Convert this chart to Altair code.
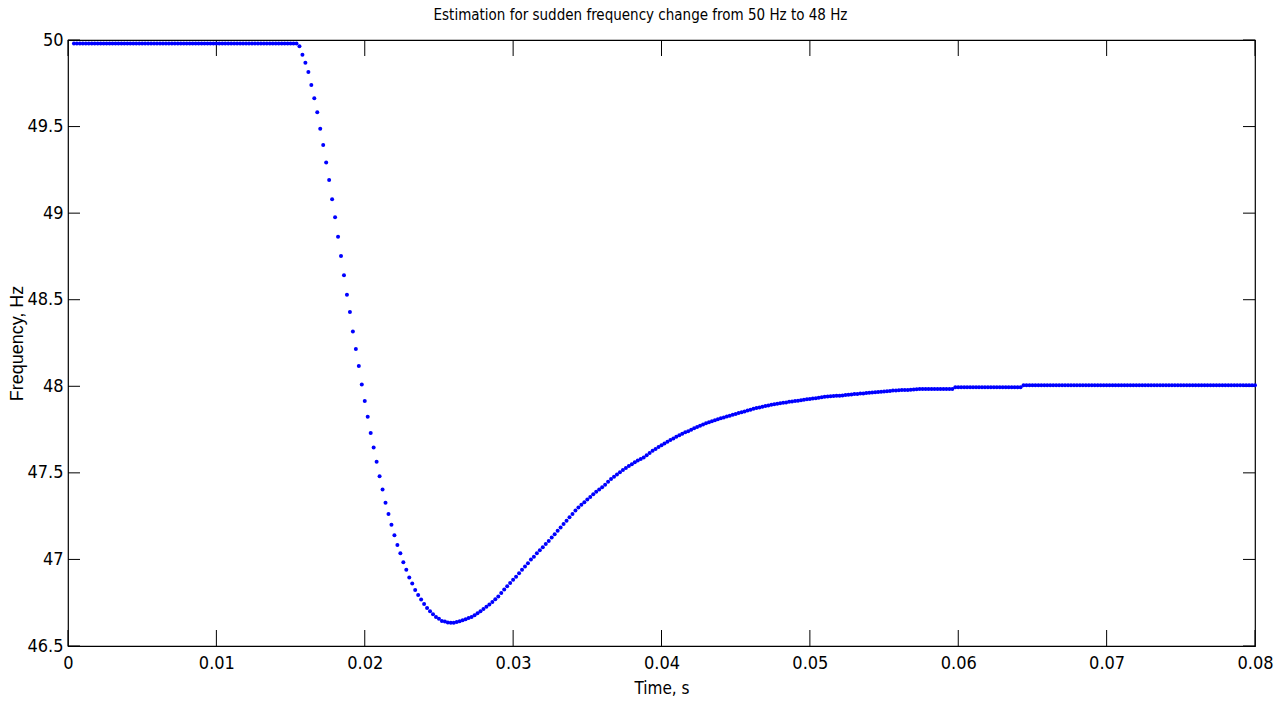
import altair as alt
import pandas as pd

# ---------------- data ----------------
t_start = 0.0004     # first sample time, s
dt = 0.0002          # sampling step, s

freq_flat = [
    49.98, 49.98, 49.98, 49.98, 49.98, 49.98, 49.98, 49.98, 49.98, 49.98,
    49.98, 49.98, 49.98, 49.98, 49.98, 49.98, 49.98, 49.98, 49.98, 49.98,
    49.98, 49.98, 49.98, 49.98, 49.98, 49.98, 49.98, 49.98, 49.98, 49.98,
    49.98, 49.98, 49.98, 49.98, 49.98, 49.98, 49.98, 49.98, 49.98, 49.98,
    49.98, 49.98, 49.98, 49.98, 49.98, 49.98, 49.98, 49.98, 49.98, 49.98,
    49.98, 49.98, 49.98, 49.98, 49.98, 49.98, 49.98, 49.98, 49.98, 49.98,
    49.98, 49.98, 49.98, 49.98, 49.98, 49.98, 49.98, 49.98, 49.98, 49.98,
    49.98, 49.98, 49.98, 49.98, 49.98, 49.98,
]
freq_drop = [
    49.964, 49.915, 49.869, 49.815, 49.740, 49.663, 49.582, 49.488, 49.393, 49.293,
    49.191, 49.080, 48.976, 48.864, 48.752, 48.641, 48.529, 48.429, 48.316, 48.215,
    48.117, 48.011, 47.915, 47.824, 47.730, 47.647, 47.564, 47.480, 47.404, 47.327,
    47.263, 47.200, 47.139, 47.083, 47.035, 46.983, 46.940, 46.896, 46.861, 46.823,
    46.794, 46.769, 46.742, 46.720, 46.701, 46.684, 46.667, 46.657, 46.645, 46.642,
]
freq_bottom = [
    46.636, 46.634, 46.634, 46.638, 46.643, 46.648, 46.654, 46.661, 46.668, 46.678,
    46.689, 46.701, 46.713, 46.726, 46.739, 46.754, 46.770, 46.786, 46.806, 46.826,
    46.845, 46.864,
]
freq_rise = [
    46.882, 46.900, 46.920, 46.940, 46.959, 46.978, 46.999, 47.016, 47.035, 47.053,
    47.071, 47.089, 47.107, 47.126, 47.145, 47.165, 47.185, 47.204, 47.224, 47.244,
    47.263, 47.283, 47.300, 47.316, 47.330, 47.346, 47.361, 47.376, 47.391, 47.404,
    47.417, 47.432, 47.448, 47.464, 47.477, 47.490, 47.503, 47.516, 47.528, 47.539,
    47.550, 47.561, 47.571, 47.580, 47.589, 47.601, 47.614, 47.627, 47.638, 47.649,
]
freq_recover = [
    47.660, 47.670, 47.680, 47.690, 47.699, 47.708, 47.717, 47.726, 47.734, 47.741,
    47.749, 47.757, 47.765, 47.772, 47.779, 47.786, 47.792, 47.798, 47.804, 47.810,
    47.815, 47.820, 47.825, 47.830, 47.835, 47.840, 47.845, 47.850, 47.855, 47.860,
    47.865, 47.870, 47.874, 47.878, 47.882, 47.886, 47.889, 47.893, 47.896, 47.899,
    47.902, 47.905, 47.907, 47.910, 47.912, 47.915, 47.917, 47.920, 47.922, 47.925,
]
freq_settle = [
    47.927, 47.929, 47.931, 47.934, 47.936, 47.939, 47.941, 47.943, 47.944, 47.945,
    47.946, 47.947, 47.949, 47.951, 47.953, 47.955, 47.956, 47.958, 47.959, 47.961,
    47.963, 47.964, 47.966, 47.967, 47.969, 47.970, 47.972, 47.973, 47.975, 47.976,
    47.977, 47.978, 47.978, 47.979, 47.980, 47.982, 47.983, 47.984, 47.984, 47.984,
    47.984, 47.984, 47.984, 47.984, 47.984, 47.984, 47.984, 47.984, 47.984, 47.994,
]
freq_steady = [
    47.994, 47.994, 47.994, 47.994, 47.994, 47.994, 47.994, 47.994, 47.994, 47.994,
    47.994, 47.994, 47.994, 47.994, 47.994, 47.994, 47.994, 47.994, 47.994, 47.994,
    47.994, 47.994, 48.006, 48.006, 48.006, 48.006, 48.006, 48.006, 48.006, 48.006,
    48.006, 48.006, 48.006, 48.006, 48.006, 48.006, 48.006, 48.006, 48.006, 48.006,
    48.006, 48.006, 48.006, 48.006, 48.006, 48.006, 48.006, 48.006, 48.006, 48.006,
    48.006, 48.006, 48.006, 48.006, 48.006, 48.006, 48.006, 48.006, 48.006, 48.006,
    48.006, 48.006, 48.006, 48.006, 48.006, 48.006, 48.006, 48.006, 48.006, 48.006,
    48.006, 48.006, 48.006, 48.006, 48.006, 48.006, 48.006, 48.006, 48.006, 48.006,
    48.006, 48.006, 48.006, 48.006, 48.006, 48.006, 48.006, 48.006, 48.006, 48.006,
    48.006, 48.006, 48.006, 48.006, 48.006, 48.006, 48.006, 48.006, 48.006, 48.006,
    48.006,
]

x_ticks = [0, 0.01, 0.02, 0.03, 0.04, 0.05, 0.06, 0.07, 0.08]
y_ticks = [46.5, 47, 47.5, 48, 48.5, 49, 49.5, 50]

freq = freq_flat + freq_drop + freq_bottom + freq_rise + freq_recover + freq_settle + freq_steady
time = [round(t_start + i * dt, 5) for i in range(len(freq))]

df = pd.DataFrame({"t": time, "f": freq})
xt = pd.DataFrame({"v": x_ticks})
yt = pd.DataFrame({"v": y_ticks})

# ---------------- chart ----------------
W, H = 1187, 606
NARROW = "Liberation Sans Narrow, Arial Narrow, DejaVu Sans Condensed, sans-serif"

xscale = alt.Scale(domain=[0, 0.08], nice=False, zero=False)
yscale = alt.Scale(domain=[46.5, 50], nice=False, zero=False)

xaxis = alt.Axis(values=x_ticks, format="~g", ticks=False, domain=False, grid=False,
                 labelFont=NARROW, labelFontSize=18, labelColor="black", labelPadding=8,
                 labelFlush=False, title="Time, s", titleFont=NARROW, titleFontSize=17,
                 titleFontWeight="normal", titleColor="black", titlePadding=8)
yaxis = alt.Axis(values=y_ticks, format="~g", ticks=False, domain=False, grid=False,
                 labelFont=NARROW, labelFontSize=18, labelColor="black", labelPadding=5,
                 labelFlush=False, title="Frequency, Hz", titleFont="Liberation Sans, Arial, sans-serif",
                 titleFontSize=18, titleFontWeight="normal", titleColor="black", titlePadding=0)

points = alt.Chart(df).mark_point(filled=True, shape="circle", size=16, color="#0000FF", opacity=1).encode(
    x=alt.X("t:Q", scale=xscale, axis=xaxis),
    y=alt.Y("f:Q", scale=yscale, axis=yaxis),
)

tick_len_x = 16
tick_len_y = 12
xt_bottom = alt.Chart(xt).mark_rule(color="black", strokeWidth=1).encode(
    x=alt.X("v:Q", scale=xscale), y=alt.value(H), y2=alt.value(H - tick_len_x))
xt_top = alt.Chart(xt).mark_rule(color="black", strokeWidth=1).encode(
    x=alt.X("v:Q", scale=xscale), y=alt.value(0), y2=alt.value(tick_len_x))
yt_left = alt.Chart(yt).mark_rule(color="black", strokeWidth=1).encode(
    y=alt.Y("v:Q", scale=yscale), x=alt.value(0), x2=alt.value(tick_len_y))
yt_right = alt.Chart(yt).mark_rule(color="black", strokeWidth=1).encode(
    y=alt.Y("v:Q", scale=yscale), x=alt.value(W), x2=alt.value(W - tick_len_y))

chart = alt.layer(xt_bottom, xt_top, yt_left, yt_right, points).properties(
    width=W, height=H,
    autosize=alt.AutoSizeParams(type="none"),
    padding={"left": 68, "top": 40, "right": 24, "bottom": 61},
    title=alt.TitleParams("Estimation for sudden frequency change from 50 Hz to 48 Hz",
                          font=NARROW, fontSize=15, fontWeight="normal", color="black",
                          anchor="middle", offset=8, dx=-21),
    background="white",
).configure_view(stroke="black", strokeWidth=1.2)

chart.save("out.html", embed_options={"renderer": "svg", "actions": False})
